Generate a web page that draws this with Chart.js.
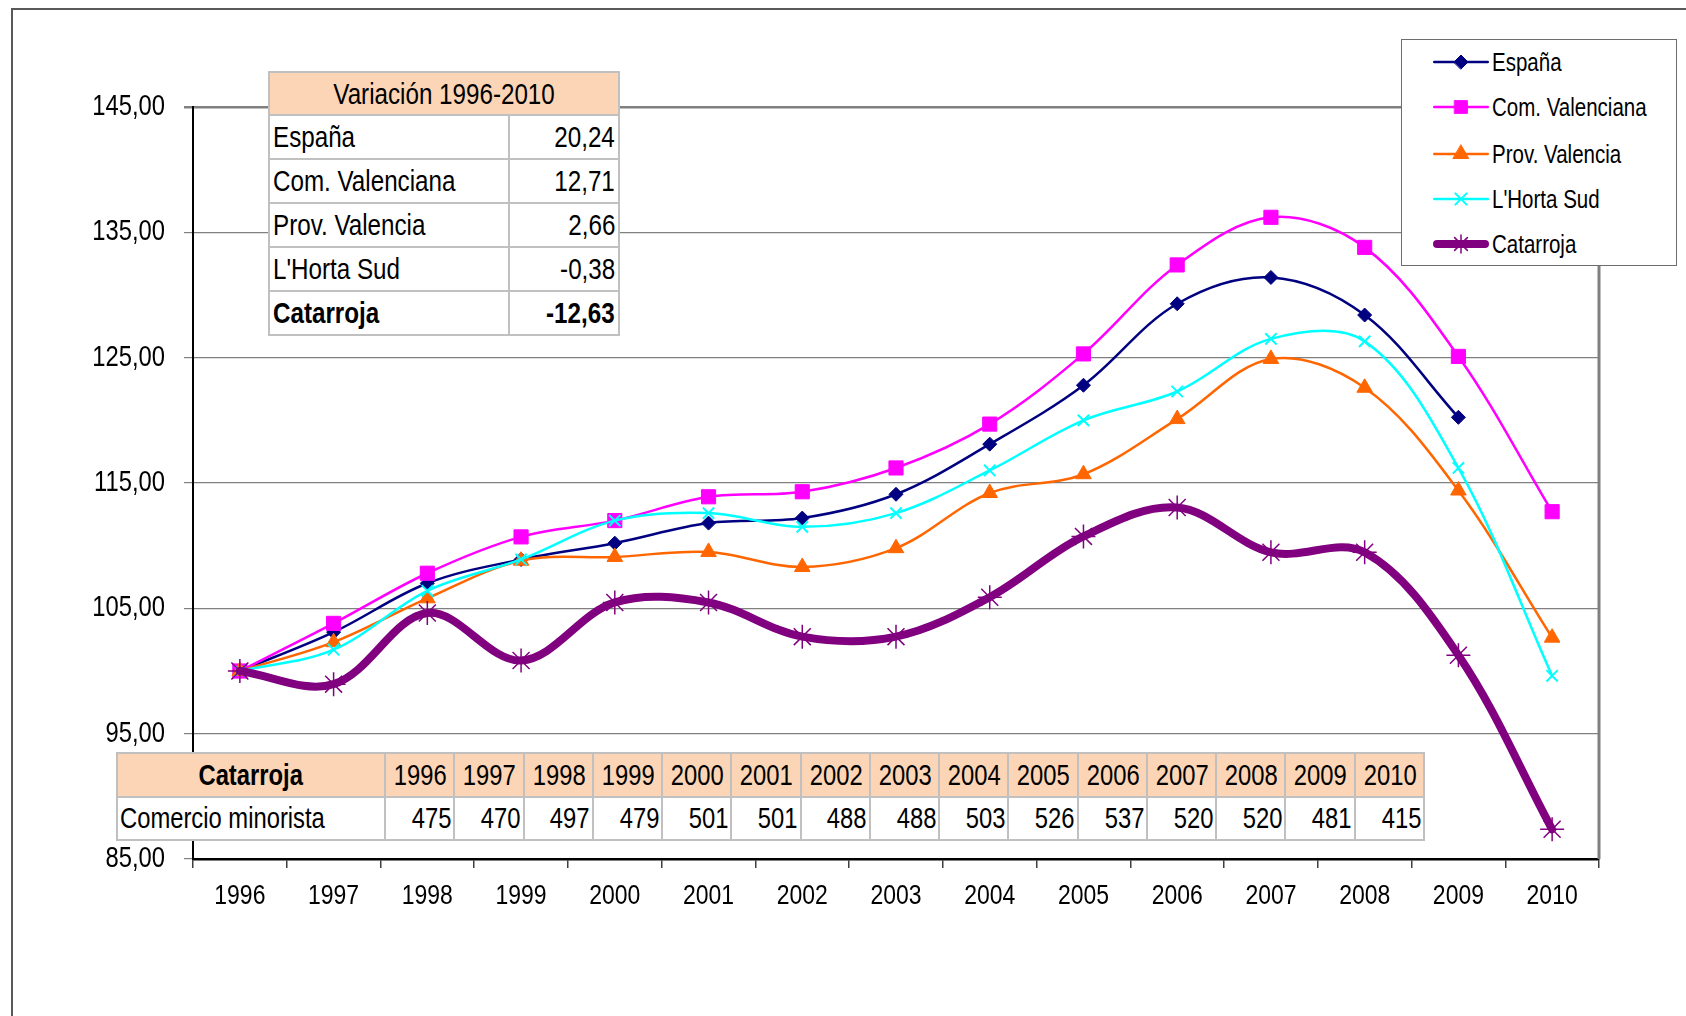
<!DOCTYPE html>
<html lang="es">
<head>
<meta charset="utf-8">
<title>Comercio minorista - Catarroja</title>
<script src="https://cdn.jsdelivr.net/npm/chart.js@4.4.1/dist/chart.umd.min.js"></script>
<style>
  html, body { margin: 0; padding: 0; background: #fff; }
  body {
    width: 1686px; height: 1016px; position: relative; overflow: hidden;
    font-family: 'Liberation Sans', Arial, sans-serif;
    color: #000;
  }
  #frame {
    position: absolute; left: 11px; top: 8px; right: -10px; bottom: -10px;
    border-left: 2px solid #595959; border-top: 2px solid #595959;
  }
  #chart { position: absolute; left: 0; top: 0; }
  /* Arial Narrow look: regular face squeezed horizontally */
  .n { display: inline-block; transform: scaleX(0.82); transform-origin: left center; white-space: nowrap; }
  .r .n { transform-origin: right center; }
  .c .n { transform-origin: center center; }
  table.grid {
    position: absolute; border-collapse: collapse; table-layout: fixed; background: #fff;
  }
  table.grid td {
    border: 2px solid #c0c0c0; padding: 0 3px; white-space: nowrap; overflow: hidden;
  }
  table.grid tr.head td { background: #fbd5b5; }
  #variacion { left: 268px; top: 71px; width: 350px; font-size: 29.5px; }
  #variacion tr { height: 44px; }
  #variacion tr.head { height: 43px; }
  #variacion td.r { text-align: right; }
  #variacion td.c { text-align: center; }
  #variacion tr.bold td { font-weight: bold; }
  #serie { left: 116px; top: 752px; width: 1309px; font-size: 29px; }
  #serie tr.head { height: 44px; }
  #serie tr { height: 43px; }
  #serie td { padding: 0 2px; }
  #serie td.c { text-align: center; }
  #serie td.r { text-align: right; }
  #serie td.title { font-weight: bold; }
  #legend {
    position: absolute; left: 1401px; top: 39px; width: 274px; height: 225px;
    border: 1.5px solid #6d6d6d; background: #fff;
  }
  #legend .item { position: absolute; left: 0; height: 30px; display: flex; align-items: center; white-space: nowrap; }
  #legend canvas { margin-left: 30px; }
  #legend .n { font-size: 25px; margin-left: 2px; }
</style>
</head>
<body>
<div id="frame"></div>
<canvas id="chart" width="1686" height="1016"></canvas>
<table id="variacion" class="grid"></table>
<table id="serie" class="grid"></table>
<div id="legend"></div>
<script>
// Data
const years = ['1996', '1997', '1998', '1999', '2000', '2001', '2002', '2003',
               '2004', '2005', '2006', '2007', '2008', '2009', '2010'];

const espana      = [100, 103.1, 107.0, 108.9, 110.2, 111.8, 112.2, 114.1, 118.1, 122.8, 129.3, 131.4, 128.4, 120.24, null];
const comValenc   = [100, 103.8, 107.8, 110.7, 112.0, 113.9, 114.3, 116.2, 119.7, 125.3, 132.4, 136.2, 133.8, 125.1, 112.71];
const provValenc  = [100, 102.3, 105.8, 108.8, 109.1, 109.5, 108.3, 109.8, 114.2, 115.7, 120.1, 124.9, 122.6, 114.4, 102.66];
const hortaSud    = [100, 101.7, 106.4, 108.9, 112.0, 112.6, 111.5, 112.6, 116.0, 120.0, 122.3, 126.5, 126.3, 116.2, 99.62];
const catarroja   = [100, 98.95, 104.63, 100.84, 105.47, 105.47, 102.74, 102.74, 105.89, 110.74, 113.05, 109.47, 109.47, 101.26, 87.37];

const comercioMinorista = [475, 470, 497, 479, 501, 501, 488, 488, 503, 526, 537, 520, 520, 481, 415];

const variacionNames  = ['España', 'Com. Valenciana', 'Prov. Valencia', "L'Horta Sud", 'Catarroja'];
const variacionValues = ['20,24', '12,71', '2,66', '-0,38', '-12,63'];

const yMin = 85, yMax = 145, yStep = 10;

const FONT = "'Liberation Sans', Arial, sans-serif";
const SQUEEZE = 0.82;

// series look
const series = [
    { label: 'España',          data: espana,     color: '#000080', point: 'rectRot',  radius: 7,  border: 1,   width: 2.5, order: 5 },
    { label: 'Com. Valenciana', data: comValenc,  color: '#ff00ff', point: 'rect',     radius: 10, border: 1,   width: 2.5, order: 4 },
    { label: 'Prov. Valencia',  data: provValenc, color: '#ff6600', point: 'triangle', radius: 9,  border: 1,   width: 2.5, order: 3 },
    { label: "L'Horta Sud",     data: hortaSud,   color: '#00ffff', point: 'crossRot', radius: 8,  border: 2,   width: 2.5, order: 2 },
    { label: 'Catarroja',       data: catarroja,  color: '#800080', point: 'star',     radius: 12, border: 1.5, width: 8,   order: 1 }
];

const fmt = v => v.toFixed(2).replace('.', ',');

function squeezedText(ctx, text, x, y, align) {
    ctx.save();
    ctx.translate(x, y);
    ctx.scale(SQUEEZE, 1);
    ctx.textAlign = align;
    ctx.fillText(text, 0, 0);
    ctx.restore();
}

// right border of the plot area
const plotFrame = {
    id: 'plotFrame',
    beforeDatasetsDraw(chart) {
        const { ctx, chartArea: a } = chart;
        ctx.save();
        ctx.strokeStyle = '#808080';
        ctx.lineWidth = 3;
        ctx.beginPath();
        ctx.moveTo(a.right, a.top - 1);
        ctx.lineTo(a.right, a.bottom);
        ctx.stroke();
        ctx.restore();
    }
};

// tick labels in a narrow face, placed from the chart's own scales
const narrowTicks = {
    id: 'narrowTicks',
    afterDraw(chart) {
        const { ctx } = chart;
        const xs = chart.scales.x, ys = chart.scales.y;
        ctx.save();
        ctx.fillStyle = '#000';
        ctx.textBaseline = 'middle';
        ctx.font = `29px ${FONT}`;
        ys.ticks.forEach((t, i) => {
            squeezedText(ctx, fmt(t.value), ys.right - 28, ys.getPixelForTick(i), 'right');
        });
        ctx.font = `28px ${FONT}`;
        xs.ticks.forEach((t, i) => {
            squeezedText(ctx, xs.getLabelForValue(t.value), xs.getPixelForTick(i), xs.top + 37, 'center');
        });
        ctx.restore();
    }
};

new Chart(document.getElementById('chart').getContext('2d'), {
    type: 'line',
    data: {
        labels: years,
        datasets: series.map(s => ({
            label: s.label,
            data: s.data,
            order: s.order,
            borderColor: s.color,
            backgroundColor: s.color,
            borderWidth: s.width,
            tension: 0.35,
            spanGaps: false,
            pointStyle: s.point,
            pointRadius: s.radius,
            pointBorderWidth: s.border,
            pointBorderColor: s.color,
            pointBackgroundColor: s.color,
            borderCapStyle: 'round',
            borderJoinStyle: 'round'
        }))
    },
    options: {
        responsive: false,
        animation: false,
        layout: { padding: { top: 107, right: 87, bottom: 0, left: 0 } },
        plugins: { legend: { display: false }, tooltip: { enabled: false } },
        scales: {
            x: {
                offset: true,
                afterFit: s => { s.height = 157; },
                border: { display: true, color: '#000', width: 2.5 },
                grid: { offset: true, drawOnChartArea: false, drawTicks: true, tickLength: 9, color: '#404040', lineWidth: 1.5 },
                ticks: { display: false }
            },
            y: {
                min: yMin, max: yMax,
                afterFit: s => { s.width = 193; },
                border: { display: true, color: '#000', width: 2 },
                grid: {
                    color: '#808080',
                    lineWidth: c => (c.tick && c.tick.value === yMax ? 2.5 : 1.2),
                    tickLength: 9,
                    tickColor: '#808080'
                },
                ticks: { display: false, stepSize: yStep }
            }
        }
    },
    plugins: [plotFrame, narrowTicks]
});

const n = (text, cls) => `<span class="n${cls ? ' ' + cls : ''}">${text}</span>`;

// Variación table
(function () {
    const t = document.getElementById('variacion');
    let html = '<colgroup><col style="width:240px"><col style="width:110px"></colgroup>';
    html += `<tr class="head"><td colspan="2" class="c">${n('Variación 1996-2010')}</td></tr>`;
    variacionNames.forEach((name, i) => {
        const cls = i === variacionNames.length - 1 ? ' class="bold"' : '';
        html += `<tr${cls}><td>${n(name)}</td><td class="r">${n(variacionValues[i])}</td></tr>`;
    });
    t.innerHTML = html;
})();

// Catarroja yearly table
(function () {
    const t = document.getElementById('serie');
    let html = '<colgroup><col style="width:268px">' + years.map(() => '<col>').join('') + '</colgroup>';
    html += `<tr class="head"><td class="title c">${n('Catarroja')}</td>` + years.map(y => `<td class="c">${n(y)}</td>`).join('') + '</tr>';
    html += `<tr><td>${n('Comercio minorista')}</td>` + comercioMinorista.map(v => `<td class="r">${n(v)}</td>`).join('') + '</tr>';
    t.innerHTML = html;
})();

// Legend with line + marker samples
(function () {
    const box = document.getElementById('legend');
    const rowTops = [7, 52, 99, 144, 189];
    series.forEach((s, i) => {
        const item = document.createElement('div');
        item.className = 'item';
        item.style.top = rowTops[i] + 'px';
        const c = document.createElement('canvas');
        c.width = 58; c.height = 30;
        const ctx = c.getContext('2d');
        ctx.strokeStyle = s.color;
        ctx.lineWidth = s.width;
        ctx.lineCap = 'round';
        ctx.beginPath();
        ctx.moveTo(s.width / 2 + 1, 15);
        ctx.lineTo(57 - s.width / 2, 15);
        ctx.stroke();
        ctx.fillStyle = s.color;
        ctx.lineWidth = s.border;
        if (Chart.helpers && Chart.helpers.drawPoint) {
            Chart.helpers.drawPoint(ctx, { pointStyle: s.point, radius: Math.min(s.radius, 9), borderWidth: s.border, rotation: 0 }, 29, 15);
        }
        const label = document.createElement('span');
        label.className = 'n';
        label.textContent = s.label;
        item.appendChild(c);
        item.appendChild(label);
        box.appendChild(item);
    });
})();
</script>
</body>
</html>
